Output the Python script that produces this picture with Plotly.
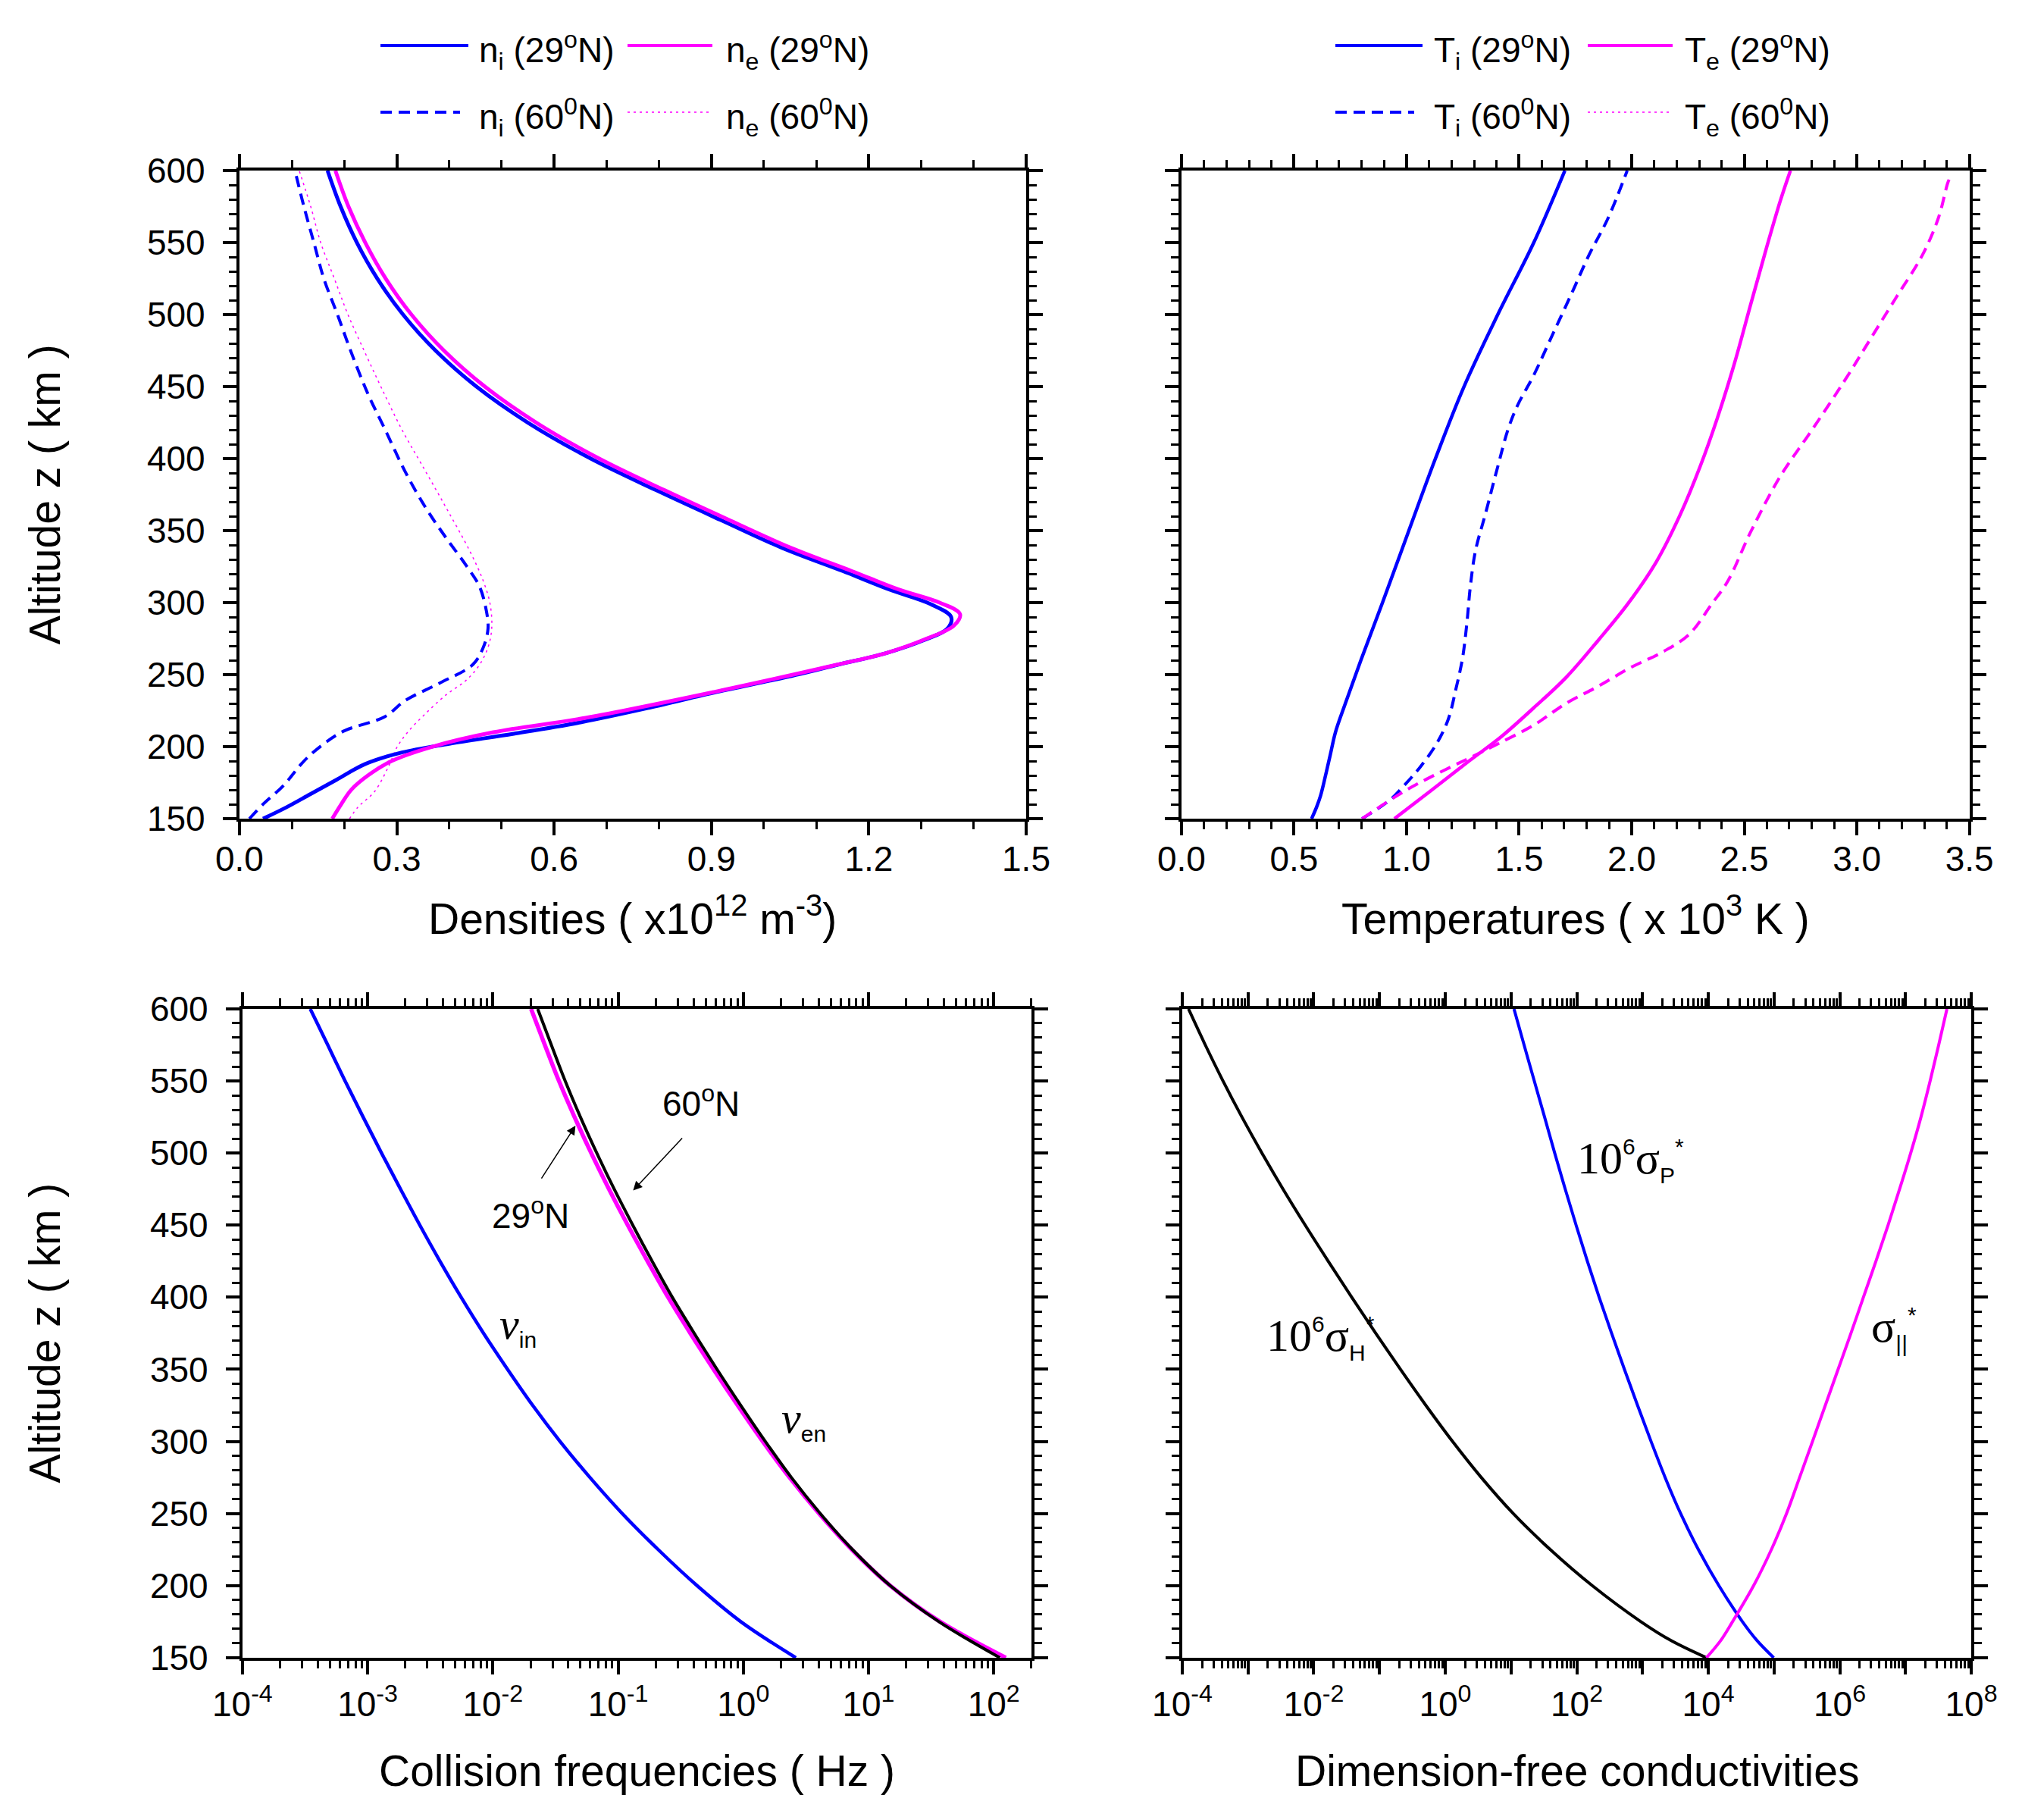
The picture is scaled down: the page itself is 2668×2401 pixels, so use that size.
import plotly.graph_objects as go

SANS = "Liberation Sans, Arial, sans-serif"
SERIF = "Liberation Serif, Times New Roman, serif"
BLUE = "#0000FF"
MAG = "#FF00FF"

# ---- densities (x10^12 m^-3) ----
z_ni29 = [150, 158, 167, 177, 188, 196, 202, 209, 217, 227, 238, 248, 257, 265, 274, 282, 290, 299, 309, 322,
          338, 357, 378, 400, 425, 450, 475, 500, 525, 550, 575, 600]
ni_29 = [0.045, 0.090, 0.135, 0.185, 0.240, 0.310, 0.400, 0.523, 0.652, 0.781, 0.910, 1.039, 1.142, 1.233,
         1.305, 1.350, 1.357, 1.318, 1.240, 1.150, 1.035, 0.920, 0.795, 0.670, 0.550, 0.452, 0.374, 0.312,
         0.263, 0.224, 0.193, 0.168]
z_ne29 = [150, 160, 170, 180, 190, 200, 210, 220, 238, 257, 265, 275, 284, 292, 300, 309, 322, 338, 357, 378,
          400, 425, 450, 475, 500, 525, 550, 575, 600]
ne_29 = [0.177, 0.194, 0.213, 0.245, 0.290, 0.368, 0.484, 0.660, 0.905, 1.140, 1.233, 1.310, 1.362, 1.374,
         1.335, 1.258, 1.167, 1.052, 0.936, 0.811, 0.686, 0.566, 0.468, 0.390, 0.328, 0.279, 0.240, 0.208, 0.183]
z_ni60 = [150, 160, 173, 190, 202, 211, 221, 232, 244, 257, 269, 282, 294, 311, 326, 345, 366, 391, 420, 445,
          474, 500, 525, 550, 575, 600]
ni_60 = [0.019, 0.045, 0.084, 0.123, 0.161, 0.200, 0.278, 0.316, 0.381, 0.445, 0.465, 0.474, 0.471, 0.458,
         0.432, 0.394, 0.355, 0.316, 0.278, 0.245, 0.213, 0.187, 0.161, 0.142, 0.123, 0.106]
z_ne60 = [150, 158, 169, 186, 200, 211, 223, 236, 246, 257, 269, 282, 299, 315, 336, 366, 395, 420, 449, 474,
          500, 525, 550, 575, 600]
ne_60 = [0.210, 0.226, 0.258, 0.284, 0.301, 0.323, 0.355, 0.394, 0.432, 0.458, 0.474, 0.481, 0.478, 0.465,
         0.439, 0.394, 0.349, 0.310, 0.271, 0.239, 0.207, 0.181, 0.155, 0.136, 0.114]

# ---- temperatures (x10^3 K) ----
z_ti29 = [150, 158, 166, 180, 195, 210, 230, 260, 300, 350, 400, 450, 500, 550, 600]
ti_29 = [0.578, 0.600, 0.618, 0.640, 0.662, 0.684, 0.728, 0.797, 0.893, 1.010, 1.128, 1.255, 1.405, 1.565, 1.703]
z_ti60 = [150, 163, 173, 186, 202, 219, 240, 261, 286, 311, 336, 361, 395, 420, 437, 458, 487, 516, 541, 567, 600]
ti_60 = [0.802, 0.926, 0.989, 1.061, 1.133, 1.185, 1.219, 1.248, 1.268, 1.283, 1.306, 1.349, 1.406, 1.450,
         1.493, 1.565, 1.651, 1.737, 1.809, 1.895, 1.980]
z_te29 = [150, 169, 190, 207, 227, 248, 274, 299, 328, 361, 395, 428, 466, 508, 546, 579, 600]
te_29 = [0.946, 1.104, 1.277, 1.421, 1.565, 1.708, 1.852, 1.982, 2.108, 2.215, 2.305, 2.380, 2.456, 2.530,
         2.598, 2.660, 2.705]
z_te60 = [150, 169, 181, 192, 202, 215, 230, 242, 255, 266, 278, 299, 315, 349, 387, 420, 454, 483, 512,
          541, 567, 592, 597]
te_60 = [0.802, 0.989, 1.133, 1.277, 1.406, 1.565, 1.708, 1.852, 1.996, 2.140, 2.255, 2.355, 2.427, 2.528,
         2.657, 2.801, 2.945, 3.060, 3.175, 3.290, 3.362, 3.405, 3.420]

# ---- collision frequencies (Hz) ----
z_nu = [150, 175, 200, 225, 250, 275, 300, 325, 350, 375, 400, 425, 450, 475, 500, 525, 550, 575, 600]
nu_in = [2.63, 0.955, 0.427, 0.209, 0.108, 0.0596, 0.0344, 0.0208, 0.0131, 8.43e-3, 5.58e-3, 3.78e-3, 2.61e-3,
         1.83e-3, 1.29e-3, 9.2e-4, 6.6e-4, 4.8e-4, 3.48e-4]
nu_en_29 = [125, 37.3, 14.9, 7.36, 4.03, 2.34, 1.43, 0.902, 0.579, 0.378, 0.251, 0.172, 0.1195, 0.0846, 0.0610,
            0.0449, 0.0337, 0.0260, 0.0202]
nu_en_60 = [112, 36.5, 14.9, 7.45, 4.12, 2.42, 1.50, 0.955, 0.617, 0.406, 0.271, 0.187, 0.131, 0.0931, 0.0676,
            0.0500, 0.0378, 0.0293, 0.0228]

# ---- dimension-free conductivities ----
z_sig = [150, 162, 175, 200, 225, 250, 275, 300, 325, 350, 375, 400, 425, 450, 475, 500, 525, 550, 575, 600]
sig_h = [9380, 2690, 944, 172, 39.6, 10.8, 3.53, 1.29, 0.507, 0.208, 0.0876, 0.0378, 0.0166, 7.41e-3, 3.41e-3,
         1.63e-3, 8.08e-4, 4.17e-4, 2.24e-4, 1.245e-4]
sig_p = [99100, 55000, 33100, 14500, 7080, 3800, 2210, 1350, 841, 531, 339, 219, 145, 97.7, 66.8, 46.2, 32.4,
         22.6, 15.8, 11.1]
sig_par = [9380, 15500, 23400, 49000, 91200, 1.55e5, 2.45e5, 3.85e5, 6.03e5, 9.44e5, 1.48e6, 2.29e6, 3.55e6,
           5.43e6, 8.13e6, 1.20e7, 1.72e7, 2.37e7, 3.20e7, 4.27e7]

fig = go.Figure()


def add_line(x, y, color, axes, width=4.5, dash="solid"):
    fig.add_trace(go.Scatter(x=x, y=y, mode="lines", showlegend=False, hoverinfo="skip",
                             line=dict(color=color, width=width, dash=dash, shape="spline", smoothing=1.0),
                             xaxis=axes[0], yaxis=axes[1]))


DASH = "15px,9px"
add_line(ni_60, z_ni60, BLUE, ("x", "y"), 4, DASH)
add_line(ne_60, z_ne60, MAG, ("x", "y"), 1.5, "3px,5px")
add_line(ni_29, z_ni29, BLUE, ("x", "y"), 5)
add_line(ne_29, z_ne29, MAG, ("x", "y"), 5)

add_line(ti_29, z_ti29, BLUE, ("x2", "y2"))
add_line(ti_60, z_ti60, BLUE, ("x2", "y2"), 4, DASH)
add_line(te_29, z_te29, MAG, ("x2", "y2"))
add_line(te_60, z_te60, MAG, ("x2", "y2"), 4, DASH)

add_line(nu_in, z_nu, BLUE, ("x3", "y3"))
add_line(nu_en_29, z_nu, MAG, ("x3", "y3"), 5.5)
add_line(nu_en_60, z_nu, "black", ("x3", "y3"), 4)

add_line(sig_h, z_sig, "black", ("x4", "y4"), 4)
add_line(sig_p, z_sig, BLUE, ("x4", "y4"), 4)
add_line(sig_par, z_sig, MAG, ("x4", "y4"), 4)

base = dict(showline=True, linecolor="black", linewidth=4, mirror="ticks", ticks="outside",
            ticklen=18, tickwidth=4, tickcolor="black", showgrid=False, zeroline=False, automargin=False,
            tickfont=dict(family=SANS, size=46, color="black"))
minor_lin = dict(ticks="outside", ticklen=10, tickwidth=3, tickcolor="black", showgrid=False)

log_minor = [m * 10 ** e for e in range(-4, 8) for m in range(2, 10)]

top_y = [0.5535, 0.9096]
bot_y = [0.0925, 0.4490]

fig.update_layout(
    width=2668, height=2401, margin=dict(l=0, r=0, t=0, b=0, autoexpand=False),
    paper_bgcolor="white", plot_bgcolor="white",
    xaxis=dict(base, domain=[0.1154, 0.5045], anchor="y", range=[0, 1.5], dtick=0.3, tickformat=".1f",
               ticklabelstandoff=-8, minor=dict(minor_lin, dtick=0.1)),
    yaxis=dict(base, domain=top_y, anchor="x", range=[150, 600], dtick=50, ticklabelstandoff=14,
               minor=dict(minor_lin, dtick=10)),
    xaxis2=dict(base, domain=[0.5813, 0.9710], anchor="y2", range=[0, 3.5], dtick=0.5, tickformat=".1f",
                ticklabelstandoff=-8, minor=dict(minor_lin, dtick=0.1)),
    yaxis2=dict(base, domain=top_y, anchor="x2", range=[150, 600], dtick=50, showticklabels=False,
                minor=dict(minor_lin, dtick=10)),
    xaxis3=dict(base, domain=[0.1169, 0.5071], anchor="y3", type="log", range=[-4, 2.301],
                tickmode="array", tickvals=[1e-4, 1e-3, 1e-2, 1e-1, 1, 10, 100],
                ticktext=["10<sup>-4</sup>", "10<sup>-3</sup>", "10<sup>-2</sup>", "10<sup>-1</sup>",
                          "10<sup>0</sup>", "10<sup>1</sup>", "10<sup>2</sup>"],
                ticklabelstandoff=0,
                minor=dict(minor_lin, tickmode="array", tickvals=[v for v in log_minor if v <= 200])),
    yaxis3=dict(base, domain=bot_y, anchor="x3", range=[150, 600], dtick=50, ticklabelstandoff=14,
                minor=dict(minor_lin, dtick=10)),
    xaxis4=dict(base, domain=[0.5817, 0.9719], anchor="y4", type="log", range=[-4, 8],
                tickmode="array", tickvals=[10.0 ** e for e in range(-4, 9)],
                ticktext=["10<sup>%d</sup>" % e if e % 2 == 0 else " " for e in range(-4, 9)],
                ticklabelstandoff=0,
                minor=dict(minor_lin, tickmode="array", tickvals=log_minor)),
    yaxis4=dict(base, domain=bot_y, anchor="x4", range=[150, 600], dtick=50, showticklabels=False,
                minor=dict(minor_lin, dtick=10)),
)

TITLE = dict(family=SANS, size=57, color="black")
ann = []
# axis titles
for xr, yr, txt, off in [("x", "y", "Densities ( x10<sup>12</sup> m<sup>-3</sup>)", -0.150),
                         ("x2", "y2", "Temperatures ( x 10<sup>3</sup> K )", -0.150),
                         ("x3", "y3", "Collision frequencies ( Hz )", -0.174),
                         ("x4", "y4", "Dimension-free conductivities", -0.174)]:
    ann.append(dict(text=txt, xref=xr + " domain", yref=yr + " domain", x=0.5, y=off,
                    showarrow=False, font=TITLE, xanchor="center", yanchor="middle"))
for yr in ["y", "y3"]:
    ann.append(dict(text="Altitude z ( km )", xref="paper", yref=yr + " domain", x=0.019, y=0.5,
                    textangle=-90, showarrow=False, font=TITLE, xanchor="center", yanchor="middle"))

# manual legends (two rows, two columns per top panel)
LEG = dict(family=SANS, size=46, color="black")
shapes = []
legend_rows = [
    # (x0, x1, text_x, y, color, width, dash, text)
    (494, 610, 622, 52, BLUE, 4, "solid", "n<sub>i</sub> (29<sup>o</sup>N)"),
    (820, 932, 948, 52, MAG, 4, "solid", "n<sub>e</sub> (29<sup>o</sup>N)"),
    (494, 599, 622, 140, BLUE, 4, DASH, "n<sub>i</sub> (60<sup>0</sup>N)"),
    (820, 932, 948, 140, MAG, 1.5, "3px,5px", "n<sub>e</sub> (60<sup>0</sup>N)"),
    (1754, 1869, 1882, 52, BLUE, 4, "solid", "T<sub>i</sub> (29<sup>o</sup>N)"),
    (2087, 2199, 2213, 52, MAG, 4, "solid", "T<sub>e</sub> (29<sup>o</sup>N)"),
    (1754, 1858, 1882, 140, BLUE, 4, DASH, "T<sub>i</sub> (60<sup>0</sup>N)"),
    (2087, 2199, 2213, 140, MAG, 1.5, "3px,5px", "T<sub>e</sub> (60<sup>0</sup>N)"),
]
W, H = 2668, 2401
for x0, x1, tx, yy, col, wd, ds, txt in legend_rows:
    shapes.append(dict(type="line", xref="paper", yref="paper", x0=x0 / W, x1=x1 / W,
                       y0=1 - yy / H, y1=1 - yy / H, line=dict(color=col, width=wd, dash=ds)))
    ann.append(dict(text=txt, xref="paper", yref="paper", x=tx / W, y=1 - (yy + 6) / H,
                    xanchor="left", yanchor="middle", showarrow=False, font=LEG))

# curve labels, collision frequencies
SUBSTY = '<span style="font-family:Liberation Sans;font-size:30px">%s</span>'
ann += [
    dict(text="<i>ν</i><sub>" + SUBSTY % "in" + "</sub>", xref="x3", yref="y3", x=-1.80, y=380,
         showarrow=False, font=dict(family=SERIF, size=58, color="black")),
    dict(text="<i>ν</i><sub>" + SUBSTY % "en" + "</sub>", xref="x3", yref="y3", x=0.48, y=315,
         showarrow=False, font=dict(family=SERIF, size=58, color="black")),
    dict(text="60<sup>o</sup>N", xref="x3", yref="y3", x=-0.34, y=536, showarrow=False, font=LEG),
    dict(text="29<sup>o</sup>N", xref="x3", yref="y3", x=-1.70, y=458, showarrow=False, font=LEG),
    dict(text=" ", xref="x3", yref="y3", x=-1.34, y=519, axref="x3", ayref="y3", ax=-1.63, ay=480,
         showarrow=True, arrowhead=2, arrowsize=1.6, arrowwidth=1.5, arrowcolor="black"),
    dict(text=" ", xref="x3", yref="y3", x=-0.88, y=474, axref="x3", ayref="y3", ax=-0.47, ay=512,
         showarrow=True, arrowhead=2, arrowsize=1.6, arrowwidth=1.5, arrowcolor="black"),
]

# curve labels, conductivities
SUP = '<span style="font-family:Liberation Sans;font-size:30px">%s</span>'
ann += [
    dict(text="10<sup>" + SUP % "6" + "</sup>σ<sub>" + SUP % "H" + "</sub><sup>" + SUP % "*" + "</sup>",
         xref="x4", yref="y4", x=-1.90, y=372, showarrow=False,
         font=dict(family=SERIF, size=60, color="black")),
    dict(text="10<sup>" + SUP % "6" + "</sup>σ<sub>" + SUP % "P" + "</sub><sup>" + SUP % "*" + "</sup>",
         xref="x4", yref="y4", x=2.82, y=495, showarrow=False,
         font=dict(family=SERIF, size=60, color="black")),
    dict(text="σ<sub>" + SUP % "||" + "</sub><sup>" + SUP % "*" + "</sup>",
         xref="x4", yref="y4", x=6.82, y=378, showarrow=False,
         font=dict(family=SERIF, size=60, color="black")),
]

fig.update_layout(annotations=ann, shapes=shapes)
fig.write_html("out.html")
